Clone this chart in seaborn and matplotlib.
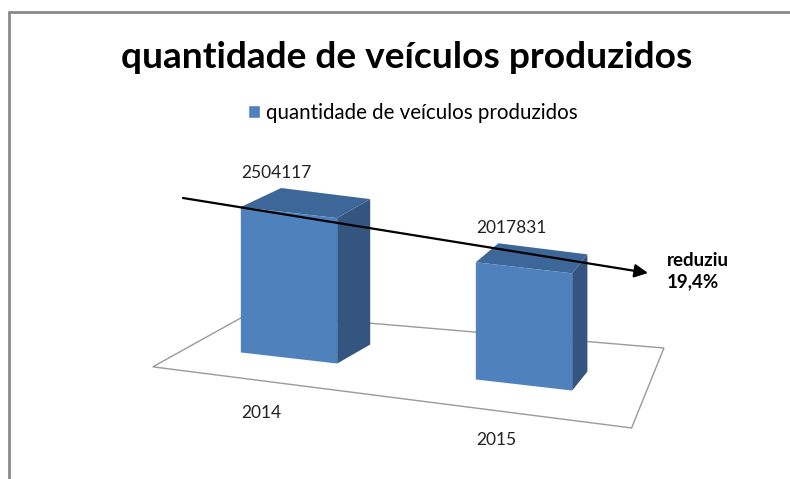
import numpy as np
import pandas as pd
import matplotlib.pyplot as plt
import seaborn as sns
from matplotlib.patches import Polygon, Patch
from matplotlib.transforms import Affine2D, IdentityTransform
from matplotlib.lines import Line2D

# --- data ---
anos = ["2014", "2015"]
producao = [2504117, 2017831]
titulo = "quantidade de veículos produzidos"
nota_reducao = "reduziu\n19,4%"

# --- colours ---
FRONT = "#4F81BD"
SIDE = "#34557F"
TOP = "#3D6699"

sns.set_theme(style="white")
plt.rcParams['font.family'] = ['Lato', 'DejaVu Sans']
plt.rcParams['text.color'] = 'black'

W, H = 790, 479
fig = plt.figure(figsize=(W / 100, H / 100), dpi=100)

# pseudo-3D set-up: shear of the front plane + depth vector toward a vanishing point
K, XC = 0.115, 406.5
VPX, DEPTH_K, DEPTH_Y = 773, 0.0758, 19.0

ax = fig.add_axes([171.5 / W, (H - 371.5) / H, 470 / W, 151 / H])
df = pd.DataFrame({"ano": anos, "veiculos": producao})
sns.barplot(data=df, x="ano", y="veiculos", ax=ax, color=FRONT,
            saturation=1, width=0.41, zorder=3, linewidth=0, edgecolor=FRONT)
ax.set_xlim(-0.5, 1.5)
ax.set_ylim(0, 2.6e6)
ax.axis("off")

shear = Affine2D().translate(-XC, 0).skew(0, -np.arctan(K)).translate(XC, 0)
proj = ax.transData + shear


def depth(px):
    return np.array([DEPTH_K * (VPX - px), DEPTH_Y])


def P(x, y, z=0.0):
    p = proj.transform((x, y))
    return p + z * depth(p[0])


def poly(pts, color, z, fill=True, ec="none", lw=0):
    pg = Polygon(np.array(pts), closed=True, transform=IdentityTransform(),
                 facecolor=color if fill else "none", edgecolor=ec, lw=lw,
                 zorder=z, clip_on=False)
    ax.add_patch(pg)


# floor pane
floor = [(-0.39, -1.02), (-0.49, 1.67), (1.48, 2.63), (1.52, -1.52)]
poly([P(x, 0, z) for x, z in floor], "white", 0.5, fill=False, ec="#9a9a9a", lw=1.0)

# bars: shear the front face, add side and top faces
for patch, ano in zip(list(ax.patches)[:len(anos)], anos):
    patch.set_transform(proj)
    patch.set_clip_on(False)
    x0, w, h = patch.get_x(), patch.get_width(), patch.get_height()
    BL, BR, TL, TR = P(x0, 0), P(x0 + w, 0), P(x0, h), P(x0 + w, h)
    poly([BR, TR, TR + depth(TR[0]), BR + depth(BR[0])], SIDE, 2)
    poly([TL, TR, TR + depth(TR[0]), TL + depth(TL[0])], TOP, 2)

    top = P(x0 + w / 2, h)
    fig.text((top[0] - 13) / W, (top[1] + 40) / H, f"{int(round(h))}",
             ha="center", va="center", fontsize=12.5, color="#222222")
    bot = P(x0 + w / 2, 0)
    fig.text((bot[0] - 28) / W, (bot[1] - 55) / H, ano,
             ha="center", va="center", fontsize=12.5, color="#222222")

# trend arrow and note
ax.annotate("", xy=(648 / W, 1 - 273 / H), xycoords="figure fraction",
            xytext=(183 / W, 1 - 198 / H), textcoords="figure fraction",
            arrowprops=dict(arrowstyle="-|>", color="black", lw=1.6,
                            mutation_scale=20, shrinkA=0, shrinkB=0),
            zorder=10, annotation_clip=False)
fig.text(667 / W, 1 - 271 / H, nota_reducao, ha="left", va="center",
         fontsize=13.5, fontweight="bold", linespacing=1.35, color="black")

# title and legend
fig.text(407 / W, 1 - 58 / H, titulo, ha="center", va="center",
         fontsize=26.7, fontweight="bold", color="black")
fig.legend(handles=[Patch(facecolor=FRONT, label=titulo)],
           loc="center", bbox_to_anchor=(413 / W, 1 - 113 / H), frameon=False,
           handlelength=0.6, handleheight=0.6, handletextpad=0.3,
           fontsize=14.8)

# chart-area border (top and left visible)
fig.add_artist(Line2D([9 / W, 9 / W], [0, 1 - 12 / H], color="#8a8a8a", lw=2))
fig.add_artist(Line2D([9 / W, 1], [1 - 12 / H, 1 - 12 / H], color="#8a8a8a", lw=2))

fig.savefig("out.png", dpi=100)
